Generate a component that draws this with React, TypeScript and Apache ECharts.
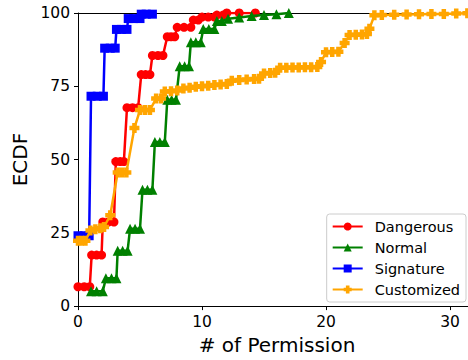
import React, { useEffect, useRef } from "react";
import * as echarts from "echarts";

const seriesNames = ["Dangerous", "Normal", "Signature", "Customized"];
const seriesColors = ["#ff0000", "#008000", "#0000ff", "#ffa500"];

const dangerousX = [0, 0.5, 0.95, 1.1, 1.5, 1.9, 2.0, 2.45, 2.9, 3.05, 3.4, 3.7, 3.95, 4.4, 4.85, 5.1, 5.45, 5.8, 6.0, 6.45, 6.85, 7.2, 7.5, 7.8, 8.0, 8.55, 9.1, 9.3, 9.7, 10.0, 10.5, 11.0, 11.2, 11.7, 12.0, 13.0, 14.3];
const dangerousY = [6.6, 6.6, 6.6, 17.4, 17.4, 17.4, 28.7, 28.7, 28.7, 49.3, 49.3, 49.3, 67.7, 67.7, 67.7, 79, 79, 79, 85.5, 85.5, 85.5, 91.9, 91.9, 91.9, 95.1, 95.1, 95.1, 97.6, 97.6, 98.6, 98.6, 98.6, 99.3, 99.3, 100, 100, 100];

const normalX = [1.05, 1.5, 2.0, 2.25, 2.7, 3.1, 3.2, 3.6, 4.0, 4.2, 4.6, 5.0, 5.2, 5.6, 6.0, 6.2, 6.6, 7.0, 7.2, 7.55, 7.9, 8.2, 8.6, 8.95, 9.1, 9.5, 9.9, 10.1, 10.55, 11.0, 11.2, 11.6, 12.1, 13.0, 14.0, 15.0, 16.0, 17.0];
const normalY = [5.1, 5.1, 5.1, 9.5, 9.5, 9.5, 18.9, 18.9, 18.9, 26.4, 26.4, 26.4, 39.7, 39.7, 39.7, 56, 56, 56, 70.4, 70.4, 70.4, 81.8, 81.8, 81.8, 90, 90, 90, 94.5, 94.5, 94.5, 97.3, 97.3, 98, 98.5, 99, 99.3, 99.6, 100];

const signatureX = [0, 0.5, 0.9, 1.05, 1.55, 2.05, 2.15, 2.6, 3.0, 3.1, 3.5, 3.95, 4.05, 4.5, 5.0, 5.1, 5.5, 6.0];
const signatureY = [24, 24, 24, 71.6, 71.6, 71.6, 88, 88, 88, 94.4, 94.4, 94.4, 98.1, 98.1, 98.1, 99.6, 99.6, 99.6];

const customizedX = [0, 0.3, 0.6, 1.0, 1.4, 1.8, 2.1, 2.6, 3.2, 3.55, 3.9, 4.55, 5.0, 5.4, 5.8, 6.3, 6.7, 7.0, 7.5, 8.0, 8.5, 9.0, 9.5, 10.0, 10.5, 11.0, 11.5, 12.0, 12.4, 13.0, 13.6, 14.2, 14.6, 15.0, 15.5, 15.9, 16.3, 16.8, 17.3, 17.8, 18.3, 18.8, 19.3, 19.6, 20.0, 20.5, 21.0, 21.5, 21.9, 22.4, 22.9, 23.3, 23.5, 23.9, 24.5, 25.5, 26.5, 27.5, 28.5, 29.5, 30.5, 31.4];
const customizedY = [22.3, 22.3, 22.3, 25.8, 26.2, 26.6, 27, 31, 45.6, 45.6, 45.6, 60.8, 66.9, 66.9, 66.9, 70.8, 70.8, 73.2, 73.3, 73.6, 74.2, 74.5, 74.8, 75.0, 75.2, 75.4, 75.6, 75.8, 76.9, 77.1, 77.3, 77.5, 77.6, 79.4, 79.5, 79.6, 81.3, 81.3, 81.4, 81.4, 81.5, 81.5, 81.6, 83.3, 86.6, 86.7, 86.8, 89.8, 92.5, 92.6, 92.7, 92.8, 94.6, 99.2, 99.3, 99.4, 99.5, 99.6, 99.7, 99.7, 99.8, 99.9];

const xTicks = [0, 10, 20, 30];
const xMax = 31.45;
const yTicks = [0, 25, 50, 75, 100];

const plusPath = "path://M-0.45,-1 L0.45,-1 L0.45,-0.45 L1,-0.45 L1,0.45 L0.45,0.45 L0.45,1 L-0.45,1 L-0.45,0.45 L-1,0.45 L-1,-0.45 L-0.45,-0.45 Z";

const pairs = (xs: number[], ys: number[]) => xs.map((x, i) => [x, ys[i]]);

export default function App() {
  const ref = useRef<HTMLDivElement>(null);
  useEffect(() => {
    if (!ref.current) return;
    document.body.style.margin = "0";
    document.body.style.overflow = "hidden";
    const chart = echarts.init(ref.current, undefined, { renderer: "svg" });
    const font = "DejaVu Sans";
    const data = [
      pairs(dangerousX, dangerousY),
      pairs(normalX, normalY),
      pairs(signatureX, signatureY),
      pairs(customizedX, customizedY),
    ];
    const symbols = ["circle", "triangle", "rect", plusPath];
    const sizes = [9, 10, 9, 10];
    chart.setOption({
      animation: false,
      textStyle: { fontFamily: font },
      grid: {
        left: 78,
        top: 13,
        right: 0,
        bottom: 51,
        containLabel: false,
      },
      xAxis: [
        {
          type: "value",
          min: xTicks[0],
          max: xMax,
          interval: xTicks[1] - xTicks[0],
          name: "# of Permission",
          nameLocation: "middle",
          nameGap: 28,
          nameTextStyle: { fontSize: 20, color: "#000", fontFamily: font, padding: [0, 0, 0, 8] },
          axisLine: { show: true, lineStyle: { color: "#000", width: 1 } },
          axisTick: { show: true, length: 4, lineStyle: { color: "#000" } },
          axisLabel: { fontSize: 15.5, color: "#000", margin: 8, showMaxLabel: false, fontFamily: font },
          splitLine: { show: false },
        },
        {
          type: "value",
          position: "top",
          min: xTicks[0],
          max: xMax,
          interval: xTicks[1] - xTicks[0],
          axisLine: { show: true, lineStyle: { color: "#000", width: 1 } },
          axisTick: { show: false },
          axisLabel: { show: false },
          splitLine: { show: false },
        },
      ],
      yAxis: {
        type: "value",
        min: yTicks[0],
        max: yTicks[yTicks.length - 1],
        interval: yTicks[1] - yTicks[0],
        name: "ECDF",
        nameLocation: "middle",
        nameGap: 46,
        nameTextStyle: { fontSize: 20, color: "#000", fontFamily: font },
        axisLine: { show: true, lineStyle: { color: "#000", width: 1 } },
        axisTick: { show: true, length: 4, lineStyle: { color: "#000" } },
        axisLabel: { fontSize: 15.5, color: "#000", margin: 8, fontFamily: font },
        splitLine: { show: false },
      },
      legend: {
        orient: "vertical",
        right: 2,
        bottom: 58,
        itemWidth: 30,
        itemHeight: 10,
        itemGap: 6,
        padding: [5, 6, 5, 5],
        backgroundColor: "rgba(255,255,255,0.8)",
        borderColor: "#cccccc",
        borderWidth: 1,
        borderRadius: 3,
        textStyle: { fontSize: 14.5, color: "#000", fontFamily: font, padding: [0, 0, 0, 7] },
        data: seriesNames,
      },
      series: seriesNames.map((name, i) => ({
        name,
        type: "line",
        xAxisIndex: 0,
        data: data[i],
        symbol: symbols[i],
        symbolSize: sizes[i],
        showAllSymbol: true,
        color: seriesColors[i],
        lineStyle: { color: seriesColors[i], width: 2.5 },
        itemStyle: { color: seriesColors[i], borderWidth: 0 },
        clip: true,
        z: 2 + i,
      })),
    });
    return () => chart.dispose();
  }, []);
  return <div ref={ref} style={{ width: 468, height: 360 }} />;
}
